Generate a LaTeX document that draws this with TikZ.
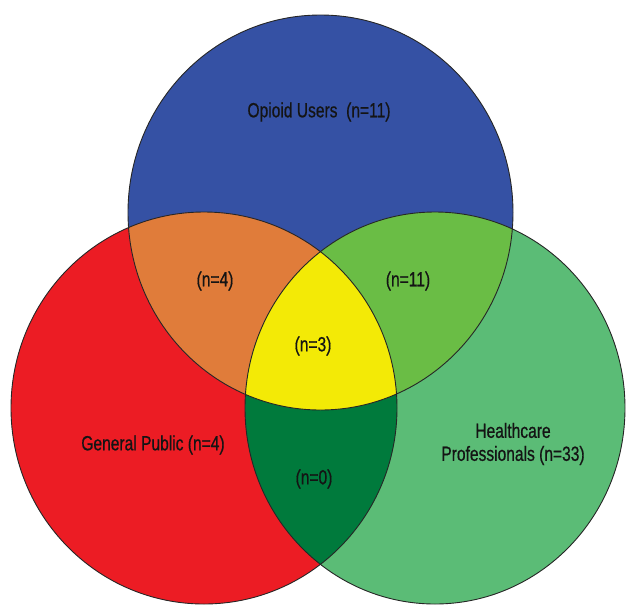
\documentclass[tikz,border=0pt]{standalone}
\usepackage{fontspec}
\setmainfont[FakeStretch=0.76,FakeBold=0.6]{Liberation Sans}
\definecolor{cBlue}{HTML}{3551A4}
\definecolor{cRed}{HTML}{EC1C24}
\definecolor{cOrange}{HTML}{E07C3A}
\definecolor{cYellow}{HTML}{F3EA06}
\definecolor{cMidGreen}{HTML}{6ABD45}
\definecolor{cLightGreen}{HTML}{5BBC76}
\definecolor{cDarkGreen}{HTML}{007A3C}
\definecolor{cText}{HTML}{141414}
\tikzset{
  rT/.style={x radius=192.5, y radius=197.5},
  rL/.style={x radius=193, y radius=196},
  rR/.style={x radius=190, y radius=196},
  outline/.style={draw=black!85, line width=0.9pt},
  lbl/.style={text=cText, font=\fontsize{20.5}{23}\selectfont, inner sep=0pt, align=center}
}
\begin{document}
\begin{tikzpicture}[x=1pt,y=-1pt]
\useasboundingbox (0,0) rectangle (627,606);
\coordinate (cT) at (320.5,212.5);
\coordinate (cL) at (204,408);
\coordinate (cR) at (435,408);
% base fills
\fill[cBlue] (cT) ellipse [rT];
\fill[cRed] (cL) ellipse [rL];
\fill[cLightGreen] (cR) ellipse [rR];
% pairwise intersections
\begin{scope}
  \clip (cT) ellipse [rT];
  \fill[cOrange] (cL) ellipse [rL];
\end{scope}
\begin{scope}
  \clip (cT) ellipse [rT];
  \fill[cMidGreen] (cR) ellipse [rR];
\end{scope}
\begin{scope}
  \clip (cL) ellipse [rL];
  \fill[cDarkGreen] (cR) ellipse [rR];
\end{scope}
% triple intersection
\begin{scope}
  \clip (cT) ellipse [rT];
  \clip (cL) ellipse [rL];
  \fill[cYellow] (cR) ellipse [rR];
\end{scope}
% outlines
\draw[outline] (cT) ellipse [rT];
\draw[outline] (cL) ellipse [rL];
\draw[outline] (cR) ellipse [rR];
% labels
\node[lbl] (lOpioid) at (319,112) {Opioid Users\ \ (n=11)};
\node[lbl] (lGP) at (153,445) {General Public (n=4)};
\node[lbl] (lHP) at (513,444) {Healthcare\\Professionals (n=33)};
\node[lbl] (lTL) at (215,281) {(n=4)};
\node[lbl] (lTR) at (408,281) {(n=11)};
\node[lbl] (lAll) at (313,346) {(n=3)};
\node[lbl] (lLR) at (314,479) {(n=0)};
\end{tikzpicture}
\end{document}
